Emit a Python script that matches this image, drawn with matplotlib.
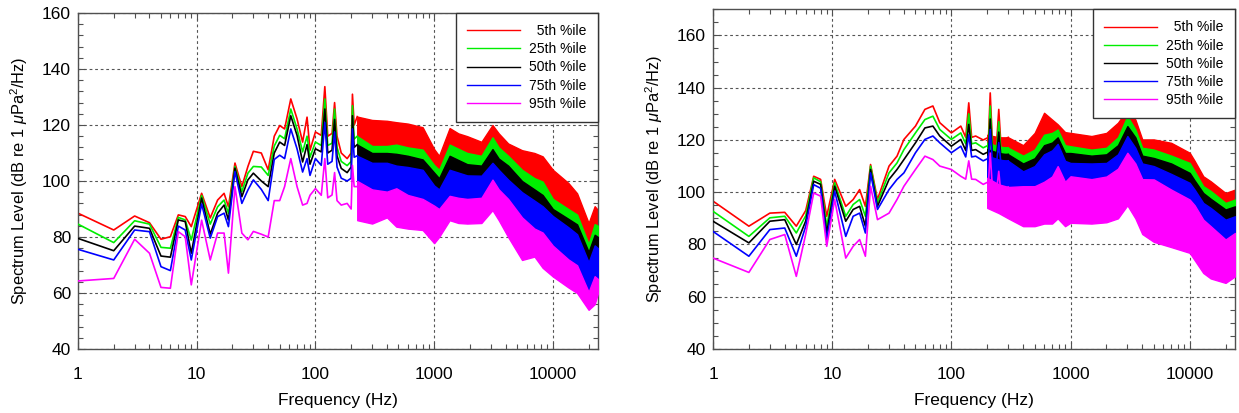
import matplotlib
matplotlib.use('Agg')
import matplotlib.pyplot as plt
from matplotlib.lines import Line2D
from matplotlib.ticker import FixedLocator, FixedFormatter, MultipleLocator, LogLocator, NullFormatter

plt.rcParams['font.family'] = ['Liberation Sans', 'DejaVu Sans']
plt.rcParams['mathtext.fontset'] = 'custom'
plt.rcParams['mathtext.rm'] = 'Liberation Sans'
plt.rcParams['mathtext.it'] = 'Liberation Sans:italic'

# ---------------- data ----------------
percentile_labels = ['  5th %ile', '25th %ile', '50th %ile', '75th %ile', '95th %ile']
series_colors = ['#ff0000', '#00ee00', '#000000', '#0000ff', '#ff00ff']
x_ticks = [1, 10, 100, 1000, 10000]
x_tick_labels = ['1', '10', '100', '1000', '10000']

# Left panel: low-frequency lines
freq_left_lines = [1, 2, 3, 4, 5, 6, 7, 8, 9, 11, 13, 15, 17, 18.5, 21, 24, 27, 30, 35, 40,
                   45, 50, 55, 62, 70, 78, 85, 90, 100, 112, 120, 127, 138, 145, 152, 165,
                   185, 200, 205, 212, 225]
left_p05 = [88.5, 82.5, 87.5, 85.1, 79.2, 80.1, 87.9, 87.3, 83.7, 95.6, 86.8, 93.2, 95.6, 90.8,
            106.4, 98.0, 105.2, 110.6, 110.0, 104.0, 116.0, 119.8, 118.6, 129.3, 122.2, 113.9,
            122.8, 111.0, 117.5, 116.3, 133.7, 116.0, 117.0, 128.0, 116.0, 110.0, 108.0, 110.0,
            131.0, 120.0, 123.0]
left_p25 = [84.6, 78.0, 85.8, 84.6, 76.3, 76.0, 87.0, 86.1, 78.9, 94.8, 84.6, 90.8, 93.2, 88.5,
            105.2, 96.2, 102.8, 105.2, 105.0, 102.0, 112.5, 116.3, 115.1, 125.7, 118.6, 110.4,
            116.0, 108.5, 113.9, 112.7, 129.3, 112.7, 113.5, 125.7, 112.0, 107.0, 105.5, 107.0,
            126.9, 115.0, 116.0]
left_p50 = [79.5, 75.1, 83.9, 83.1, 73.2, 72.8, 86.1, 85.5, 74.2, 93.9, 81.0, 88.5, 91.4, 86.1,
            104.6, 94.4, 100.4, 102.8, 100.0, 98.0, 110.0, 113.9, 112.7, 123.3, 116.3, 106.8,
            113.0, 106.0, 111.5, 110.4, 125.7, 110.0, 111.0, 122.0, 109.0, 104.5, 103.0, 105.0,
            123.3, 112.0, 113.0]
left_p75 = [75.6, 71.8, 82.5, 81.9, 69.4, 68.0, 83.9, 82.5, 71.8, 91.8, 79.6, 87.3, 88.5, 83.7,
            103.4, 92.0, 96.8, 100.4, 97.0, 93.0, 107.7, 109.2, 108.0, 118.6, 111.5, 103.2,
            108.0, 102.0, 108.0, 105.6, 120.9, 106.0, 107.0, 117.5, 105.0, 101.0, 100.0, 101.0,
            118.6, 108.5, 109.0]
left_p95 = [64.3, 65.2, 79.2, 74.2, 62.0, 61.7, 81.9, 80.1, 62.9, 86.0, 71.8, 81.4, 81.4, 67.1,
            98.0, 81.4, 79.0, 82.0, 81.0, 80.0, 93.0, 93.0, 98.0, 108.0, 98.0, 91.4, 92.0, 94.9,
            97.3, 94.9, 108.0, 94.0, 95.0, 103.0, 93.0, 91.4, 92.0, 90.0, 105.6, 98.0, 98.0]

# Left panel: high-frequency bands (upper / lower envelopes)
freq_left_band = [225, 300, 400, 480, 600, 800, 1000, 1100, 1350, 1600, 1900, 2500, 3100, 3500,
                  4200, 5500, 7000, 8200, 10000, 13500, 16000, 20000, 22500, 24000]
left_p05_hi = [123, 121.8, 121.5, 121, 120.5, 119.2, 111.4, 109, 118.9, 117, 116, 114, 120, 117,
               113.4, 111, 110, 108.8, 104, 99.3, 95.6, 85, 91, 89.6]
left_p05_lo = [114, 110.5, 110.5, 111, 110, 109.2, 103.7, 102, 111, 109.5, 108, 107, 113.6, 110,
               107, 102, 99, 97.8, 91.6, 88, 86, 75.5, 82.6, 82]
left_p25_hi = [116, 112.5, 112.5, 113, 112, 111.2, 105.7, 104, 113, 111.5, 110, 109, 115.6, 112,
               109, 104, 101, 99.8, 93.6, 90, 88, 77.5, 84.6, 84]
left_p25_lo = [111, 108, 108, 107.7, 107, 105.7, 101, 99, 107, 105.5, 104, 103.5, 109.4, 106,
               103.5, 98, 95, 93, 88, 84.5, 82.5, 72.7, 78.8, 78]
left_p50_hi = [113, 110, 110, 109.7, 109, 107.7, 103, 101, 109, 107.5, 106, 105.5, 111.4, 108,
               105.5, 100, 97, 95, 90, 86.5, 84.5, 74.7, 80.8, 80]
left_p50_lo = [107, 104.5, 104.5, 103.5, 103, 102, 96.4, 95, 102, 101, 100, 99.9, 104.5, 102,
               98.5, 94, 91, 89, 85.5, 81.5, 79, 69, 75, 74]
left_p75_hi = [109, 106.5, 106.5, 105.5, 105, 104, 98.4, 97, 104, 103, 102, 101.9, 106.5, 104,
               100.5, 96, 93, 91, 87.5, 83.5, 81, 71, 77, 76]
left_p75_lo = [98, 95, 94.2, 95.4, 93, 91.6, 89.2, 88, 92.7, 92, 91.6, 92, 98.5, 95, 91.6, 85, 81,
               79.6, 74.9, 70, 67.9, 58.4, 64, 63]
left_p95_hi = [100, 97, 96.2, 97.4, 95, 93.6, 91.2, 90, 94.7, 94, 93.6, 94, 100.5, 97, 93.6, 87,
               83, 81.6, 76.9, 72, 69.9, 60.4, 66, 65]
left_p95_lo = [86, 84.8, 87, 83.7, 83, 82.5, 77.8, 80, 86, 85, 84.8, 85, 89.6, 86, 80, 71.8, 73,
               69, 65.9, 62, 60, 54, 56, 60]

# Right panel: low-frequency lines
freq_right_lines = [1, 2, 3, 4, 5, 6, 7, 8, 9, 10.5, 13, 15, 17, 19, 21, 24, 30, 35, 40, 50, 60,
                    70, 80, 100, 120, 132, 140, 148, 160, 185, 205, 212, 220, 240, 250, 260, 300]
right_p05 = [96.6, 87.0, 92.0, 92.3, 87.0, 93.0, 106.1, 104.9, 90.8, 104.9, 94.6, 97.2, 101.0,
             94.6, 110.6, 97.2, 110.0, 113.8, 120.2, 125.3, 131.7, 133.0, 126.6, 122.7, 125.3,
             121.0, 134.2, 121.0, 121.5, 120.0, 121.0, 138.0, 121.0, 119.0, 131.7, 119.0, 121.0]
right_p25 = [92.7, 83.1, 90.2, 90.8, 84.4, 91.0, 105.5, 104.0, 87.0, 103.6, 90.8, 95.3, 97.2,
             90.8, 110.0, 95.9, 107.4, 111.2, 116.3, 122.7, 127.8, 129.1, 124.0, 120.2, 122.7,
             118.5, 130.0, 118.5, 118.9, 117.0, 118.0, 133.0, 118.0, 116.5, 127.0, 116.5, 117.0]
right_p50 = [88.9, 80.6, 88.9, 89.5, 80.0, 89.0, 104.2, 103.0, 84.4, 102.3, 88.9, 93.4, 94.6,
             87.0, 108.7, 94.6, 104.9, 108.7, 112.5, 118.9, 124.6, 125.3, 121.5, 117.6, 120.2,
             116.0, 126.0, 116.0, 116.3, 114.5, 115.5, 128.0, 115.5, 114.0, 123.0, 114.0, 114.5]
right_p75 = [85.0, 75.5, 85.7, 86.3, 75.5, 87.0, 102.9, 101.5, 81.9, 100.4, 83.1, 90.8, 92.0,
             84.4, 107.4, 93.4, 101.0, 104.9, 107.4, 115.1, 120.2, 121.5, 118.9, 115.1, 117.6,
             113.5, 122.0, 113.5, 113.8, 112.0, 113.0, 124.0, 113.0, 111.5, 119.0, 111.5, 112.0]
right_p95 = [74.8, 69.3, 81.9, 83.8, 67.8, 84.0, 99.7, 98.5, 79.3, 97.2, 74.8, 79.3, 81.9, 75.5,
             102.3, 89.5, 92.0, 97.2, 102.3, 108.7, 113.8, 112.5, 110.0, 108.7, 106.1, 105.0,
             112.0, 105.0, 104.9, 103.0, 104.0, 115.0, 103.0, 101.0, 108.0, 100.0, 102.0]

# Right panel: high-frequency bands
freq_right_band = [200, 250, 300, 400, 500, 600, 700, 780, 900, 1000, 1500, 2000, 2500, 3000,
                   3500, 4000, 5000, 7000, 10000, 11000, 13000, 15000, 20000, 24000]
right_p05_hi = [122, 121, 121, 118, 122.7, 130.4, 127.8, 126, 123, 122.7, 121.5, 122.7, 126.6,
                131.7, 127.8, 120.2, 120.2, 118.9, 115.1, 112, 106.1, 104.2, 99.7, 101]
right_p05_lo = [116, 115, 115, 112, 114.3, 120, 120.7, 122, 116, 115.6, 114.3, 115, 119, 127.1,
                122, 115, 114.3, 112, 109.2, 106, 100.3, 98.5, 93.9, 95.2]
right_p25_hi = [119, 117.5, 117, 114, 116.3, 122, 122.7, 124, 118, 117.6, 116.3, 117, 121, 129.1,
                124, 117, 116.3, 114, 111.2, 108, 102.3, 100.5, 95.9, 97.2]
right_p25_lo = [114, 112.5, 112.5, 109, 111, 116, 117, 119, 113, 113, 112, 112.5, 116, 123.3,
                119, 112, 111.1, 109, 105.4, 102.5, 97.7, 95.5, 91.4, 92.6]
right_p50_hi = [116.5, 115, 114.5, 111, 113, 118, 119, 121, 115, 115, 114, 114.5, 118, 125.3,
                121, 114, 113.1, 111, 107.4, 104.5, 99.7, 97.5, 93.4, 94.6]
right_p50_lo = [111.5, 110, 110, 106, 108, 112.5, 114, 116.5, 110, 109.2, 109, 109.2, 112.5,
                119.5, 115, 109, 108, 105, 101.6, 99, 93.9, 92, 87.5, 88.8]
right_p75_hi = [114, 112.5, 112, 108, 110, 114.5, 116, 118.5, 112, 111.2, 111, 111.2, 114.5,
                121.5, 117, 111, 110, 107, 103.6, 101, 95.9, 94, 89.5, 90.8]
right_p75_lo = [103.5, 101, 100, 100.3, 100.3, 102, 104, 108, 102, 104.1, 103, 104, 107, 113.1,
                109, 103, 102.9, 99, 95.2, 93, 87.5, 85, 79.9, 82.4]
right_p95_hi = [105.5, 103, 102, 102.3, 102.3, 104, 106, 110, 104, 106.1, 105, 106, 109, 115.1,
                111, 105, 104.9, 101, 97.2, 95, 89.5, 87, 81.9, 84.4]
right_p95_lo = [94, 92, 90, 87, 87, 88, 88, 90, 87, 88.3, 88, 88.5, 90, 95, 90, 84, 81, 79, 76.8,
                74, 69.1, 67, 65.3, 67.8]

# ---------------- figure ----------------
fig = plt.figure(figsize=(12.39, 4.13), dpi=100)
W, H = 1239.0, 413.0
ax_l = fig.add_axes([78 / W, 1 - 349 / H, (598 - 78) / W, (349 - 13) / H])
ax_r = fig.add_axes([713 / W, 1 - 349 / H, (1235 - 713) / W, (349 - 9.3) / H])

panels = [
    (ax_l, freq_left_lines, [left_p05, left_p25, left_p50, left_p75, left_p95],
     freq_left_band,
     [(left_p05_lo, left_p05_hi), (left_p25_lo, left_p25_hi), (left_p50_lo, left_p50_hi),
      (left_p75_lo, left_p75_hi), (left_p95_lo, left_p95_hi)],
     (40, 160), 4),
    (ax_r, freq_right_lines, [right_p05, right_p25, right_p50, right_p75, right_p95],
     freq_right_band,
     [(right_p05_lo, right_p05_hi), (right_p25_lo, right_p25_hi), (right_p50_lo, right_p50_hi),
      (right_p75_lo, right_p75_hi), (right_p95_lo, right_p95_hi)],
     (40, 170), 5),
]

ylabel = r'Spectrum Level (dB re 1 $\mathit{\mu}$Pa$^{2}$/Hz)'
edge = '#505050'

for ax, fl, lines, fb, bands, ylim, yminor in panels:
    for i, c in enumerate(series_colors):
        ax.plot(fl, lines[i], color=c, lw=1.2, zorder=2 + i)
        lo, hi = bands[i]
        ax.fill_between(fb, lo, hi, facecolor=c, edgecolor=c, lw=1.0, zorder=2 + i)

    ax.set_xscale('log')
    ax.set_xlim(1, 24000)
    ax.set_ylim(*ylim)
    ax.xaxis.set_major_locator(FixedLocator(x_ticks))
    ax.xaxis.set_major_formatter(FixedFormatter(x_tick_labels))
    ax.xaxis.set_minor_locator(LogLocator(base=10, subs=range(2, 10), numticks=20))
    ax.xaxis.set_minor_formatter(NullFormatter())
    ax.yaxis.set_major_locator(MultipleLocator(20))
    ax.yaxis.set_minor_locator(MultipleLocator(yminor))

    ax.tick_params(which='both', direction='in', top=True, right=True, color=edge, width=0.8)
    ax.tick_params(which='major', length=5)
    ax.tick_params(which='minor', length=3.5)
    ax.tick_params(axis='x', which='major', pad=13, labelsize=12.5)
    ax.tick_params(axis='y', which='major', pad=5, labelsize=12.5)

    ax.set_axisbelow(True)
    ax.grid(True, which='major', linestyle=(0, (2.5, 2.5)), color='#555555', lw=0.8)
    for s in ax.spines.values():
        s.set_color(edge)
        s.set_linewidth(1.0)

    ax.set_xlabel('Frequency (Hz)', fontsize=12.5)
    ax.set_ylabel(ylabel, fontsize=11.8)
    hpx = ax.get_position().height * H
    wpx = ax.get_position().width * W
    ax.xaxis.set_label_coords(0.5, -(400 - 349) / hpx)
    ax.xaxis.label.set_va('center')
    ax.yaxis.set_label_coords(-59 / wpx, 0.5)
    ax.yaxis.label.set_va('center')

    handles = [Line2D([], [], color=c, lw=1.0) for c in series_colors]
    leg = ax.legend(handles, percentile_labels, loc='upper right', borderaxespad=0,
                    fontsize=10, handlelength=3.8, handletextpad=0.7, labelspacing=0.3,
                    borderpad=0.8, fancybox=False, framealpha=1, edgecolor='#333333')
    leg.get_frame().set_linewidth(1.0)
    leg.set_zorder(20)

fig.savefig('out.png', dpi=100, facecolor='white')
